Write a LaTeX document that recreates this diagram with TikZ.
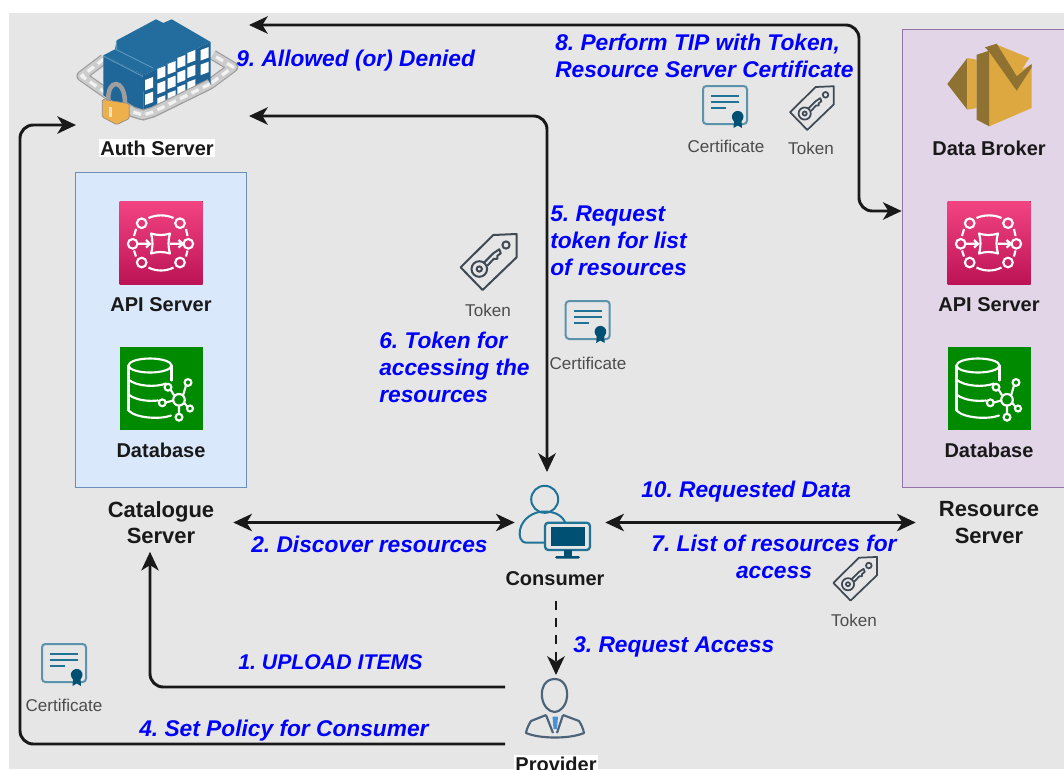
\documentclass[tikz,border=0pt]{standalone}
\usepackage{fontspec}
\setmainfont{Liberation Sans}
\usetikzlibrary{arrows.meta,calc}
\frenchspacing
\definecolor{bgc}{HTML}{E6E6E6}
\definecolor{certline}{HTML}{5B93AD}
\definecolor{tealdark}{HTML}{005073}
\definecolor{tealmid}{HTML}{1F7396}
\definecolor{tagc}{HTML}{3F4A55}
\definecolor{provc}{HTML}{4A6378}
\definecolor{brokerlight}{HTML}{DDA83F}
\definecolor{brokerdark}{HTML}{8F7232}
\definecolor{bldtop}{HTML}{226C9E}
\definecolor{bldleft}{HTML}{1F6699}
\definecolor{bldright}{HTML}{1D6293}
\definecolor{bldedge}{HTML}{5C95BC}
\tikzset{
  x=0.75pt,y=-0.75pt,
  conn/.style={draw=black!90,line width=2.2pt,rounded corners=10pt,-{Stealth[length=14pt,width=13pt,inset=4pt]}},
  connboth/.style={conn,{Stealth[length=14pt,width=13pt,inset=4pt]}-{Stealth[length=14pt,width=13pt,inset=4pt]}},
  blue label/.style={text=blue,font=\fontsize{17.05}{20}\selectfont\bfseries\itshape,align=left,inner sep=0pt},
  small blue/.style={text=blue,font=\fontsize{15.95}{20}\selectfont\bfseries\itshape,align=left,inner sep=0pt},
  bold label/.style={text=black!90,font=\fontsize{15}{18}\selectfont\bfseries,inner sep=0pt,align=center},
  big label/.style={text=black!90,font=\fontsize{16.5}{20}\selectfont\bfseries,inner sep=0pt,align=center},
  grey label/.style={text=black!70,font=\fontsize{12.8}{15}\selectfont,inner sep=0pt},
  anchorbox/.style={inner sep=0pt,draw=none},
  chainedge/.style={line width=8pt,draw=black!38,line join=round},
  chainbase/.style={line width=6.2pt,draw=black!20,line join=round},
  chainlink/.style={line width=2.4pt,draw=black!5,dash pattern=on 6pt off 3.5pt,line join=round},
  pics/certicon/.style={code={
    \draw[certline,line width=1.5pt,rounded corners=2.5pt] (-22,-19) rectangle (22,19);
    \draw[tealmid,line width=1.6pt] (-14,-9)--(14,-9) (-14,-3)--(14,-3) (-14,3.3)--(1,3.3);
    \fill[bgc] (12.7,11.7) circle [radius=8];
    \fill[tealdark] (9,14)--(8.5,23)--(12.7,20.5)--(17,23)--(16.5,14)--cycle;
    \fill[tealdark] (12.7,11.7) circle [radius=5.8];
  }},
  pics/tokenicon/.style={code={
    \draw[tagc,line width=#1,line join=round] (-27.7,5)--(5,-27.3)--(28.3,-28.3)--(28.3,-5)--(-5.7,27.7)--cycle;
    \draw[tagc,line width=#1] (17.7,-17.3) circle [radius=3.6];
    \draw[tagc,line width=#1] (-9,6.7) circle [radius=7.8];
    \draw[tagc,line width=#1] (-9,6.7) circle [radius=2.6];
    \draw[tagc,line width=#1,line join=round] (-4.5,0.5)--(5,-9)--(11,-13)--(12.5,-9)--(9,-6.5)--(9,-3.5)--(5.5,-3.5)--(-1,3.5);
  }},
  pics/apiicon/.style={code={
    \fill[top color={rgb,255:red,243;green,68;blue,130},bottom color={rgb,255:red,188;green,19;blue,86}] (-41.5,-41.5) rectangle (41.5,41.5);
    \begin{scope}[white,line width=1.6pt,fill=none]
      \foreach \p in {(-19.3,-19.3),(19,-19.3),(-28.3,1.3),(27.3,1.3),(-19.3,20),(19,20)}
        \draw \p circle [radius=4.8];
      \draw (-12.5,-24.5) .. controls (-5,-28) and (5,-28) .. (12.5,-24.5);
      \draw (-12.5,25) .. controls (-5,29) and (5,29) .. (12.5,25);
      \draw (-25,-13.5)--(-27,-6.5) (25,-13.5)--(26.5,-6.5) (-25,14)--(-27,8) (25,14)--(26.5,8);
      \draw[line join=round] (-10,-9) .. controls (-4,-7) and (3,-7) .. (9,-9) .. controls (7,-3) and (7,5) .. (9,11) .. controls (3,9) and (-4,9) .. (-10,11) .. controls (-8,5) and (-8,-3) .. (-10,-9) -- cycle;
      \draw (-23,1.3)--(-11,1.3) (-15,-2.5)--(-11,1.3)--(-15,5);
      \draw (9,1.3)--(22,1.3) (17.5,-2.5)--(22,1.3)--(17.5,5);
    \end{scope}
  }},
  pics/dbicon/.style={code={
    \fill[fill={rgb,255:red,0;green,138;blue,0}] (-41.5,-41.5) rectangle (41.5,41.5);
    \begin{scope}[white,line width=1.6pt,line cap=round]
      \draw (-11,-23) ellipse [x radius=21.5,y radius=7];
      \draw (-32.5,-23)--(-32.5,22);
      \draw (10.5,-23)--(10.5,-8);
      \draw (-32.5,-9) .. controls (-25,-2) and (-5,-1) .. (5,-5);
      \draw (-32.5,6) .. controls (-25,12) and (-12,13) .. (-3,12);
      \draw (-32.5,22) .. controls (-25,30) and (0,31) .. (10,27);
      \draw (18,11.3) circle [radius=5.8];
      \draw (27,-6) circle [radius=3.4];
      \draw (7,-1.3) circle [radius=3.4];
      \draw (1.3,14.3) circle [radius=3.4];
      \draw (29,20) circle [radius=3.0];
      \draw (18,28.7) circle [radius=3.4];
      \draw (22,7)--(25,-3) (13.5,7.5)--(9.5,1) (12.2,12)--(4.7,14) (23,14)--(26.5,18.5) (18,17)--(18,25.3);
    \end{scope}
  }},
  pics/brokericon/.style={code={
    \fill[brokerdark] (947.3,84)--(967.3,58)--(967.3,109.7)--cycle;
    \fill[brokerlight] (967.3,58)--(976.7,59.7)--(976.7,108)--(967.3,109.7)--cycle;
    \fill[brokerlight] (989.3,50)--(998.3,45.3)--(1029.3,58)--(1021.7,69.7)--(1031.7,64)--(1031.7,108)--(989.3,126.3)--cycle;
    \fill[brokerdark] (976.7,54.7)--(989.3,50.7)--(989.3,126.3)--(976.7,119.7)--cycle;
    \fill[brokerdark] (985,47.3)--(996.7,43.7)--(1016.7,76.3)--(1031.7,64)--(1031.7,67.3)--(1016.7,90.7)--(989.3,52)--cycle;
  }},
  pics/authicon/.style={code={
    \draw[chainedge] (104,59)--(81.7,76)--(133,112)--(143,115)--(153,112)--(210,84)--(233,67)--(213,55);
    \draw[chainbase] (104,59)--(81.7,76)--(133,112)--(143,115)--(153,112)--(210,84)--(233,67)--(213,55);
    \draw[chainlink] (104,59)--(81.7,76)--(133,112)--(143,115)--(153,112)--(210,84)--(233,67)--(213,55);
    \fill[bldtop] (116.7,40.3)--(156,19.3)--(163.3,23)--(171.7,19.3)--(210.7,42)--(144,75.3)--(103.3,55.3)--(115,49.3)--cycle;
    \fill[bldleft] (103.3,55.3)--(144,75.3)--(143.3,120.3)--(103.3,95.3)--cycle;
    \fill[bldright] (144,75.3)--(210.7,42)--(210.7,86)--(143.3,120.3)--cycle;
    \draw[bldedge,line width=0.7pt] (115,49)--(153,68) (104,56.5)--(143,76.5) (116.7,41)--(116.7,49);
    \foreach \wx/\wy/\wn in {145/80/2,157.3/69/3,167.7/64/3,177.3/58/3,187.3/53/3,200.7/50/2}
      \foreach \r in {1,...,\wn}
        \fill[white] ({\wx},{\wy+(\r-1)*14.6}) -- ++(8,-3) -- ++(0,10.5) -- ++(-8,3) -- cycle;
    \draw[chainedge] (210,84)--(153,112)--(143,115)--(133,112)--(123,106);
    \draw[chainbase] (210,84)--(153,112)--(143,115)--(133,112)--(123,106);
    \draw[chainlink] (210,84)--(153,112)--(143,115)--(133,112)--(123,106);
    \draw[line width=3.4pt,draw=black!38] (108.3,101) .. controls (107,78) and (125,78) .. (125,103);
    \fill[draw=black!45,fill={rgb,255:red,237;green,176;blue,74},rounded corners=1pt,line width=.5pt] (102.3,99.3)--(129.3,103.7)--(129.3,118.5)--(116.7,124.7)--(102.3,117)--cycle;
    \fill[white!75!orange] (109,107) rectangle (112.3,117);
  }},
  pics/consumericon/.style={code={
    \begin{scope}[tealmid,line width=1.5pt]
      \draw (544.7,499.3) circle [radius=13.5];
      \draw (545,542.7)--(527,542.7) .. controls (520,542.7) and (519,536) .. (520,530) .. controls (522,519) and (533,511.5) .. (544,511.5) .. controls (553,511.5) and (561,514) .. (565,522);
      \draw[rounded corners=2.5pt,line width=1.7pt] (545,522.7) rectangle (590,550);
      \fill[tealdark] (551,527.3) rectangle (585.3,546);
      \fill[tealdark] (563.5,550) rectangle (571.5,556);
      \fill[tealdark,rounded corners=1pt] (555,556) rectangle (580,558.5);
    \end{scope}
  }},
  pics/providericon/.style={code={
    \begin{scope}[draw=provc,line width=1.6pt,line join=round]
      \draw (554.7,679) .. controls (564,679) and (568,688) .. (567,697) .. controls (566,706) and (560,712) .. (554.7,712) .. controls (549,712) and (543,706) .. (542,697) .. controls (541,688) and (545,679) .. (554.7,679) -- cycle;
      \draw (546,715)--(531,721) .. controls (528,725) and (526,732) .. (526,733) .. controls (540,739) and (570,739) .. (584,733) .. controls (583,728) and (581,724) .. (579,721)--(563,715);
      \draw (546,715)--(553,733) (563,715)--(557,733);
      \fill[cyan!60!blue!75] (552.5,716.5)--(558,716.5)--(557,729)--(553.5,729)--cycle;
    \end{scope}
  }},
}
\begin{document}
\begin{tikzpicture}
\useasboundingbox (0,0) rectangle (1064,769);
\clip (0,0) rectangle (1064,769);
\fill[white] (0,0) rectangle (1064,769);
\fill[bgc] (9,13) rectangle (1070,769);

% containers
\node[anchorbox,draw={rgb,255:red,108;green,142;blue,191},fill={rgb,255:red,218;green,232;blue,252},line width=0.75pt,minimum width=128.25pt,minimum height=236.25pt] (catbox) at (160.5,329.5) {};
\node[anchorbox,draw={rgb,255:red,150;green,115;blue,166},fill={rgb,255:red,225;green,213;blue,231},line width=0.75pt,minimum width=140pt,minimum height=343.5pt] (resbox) at (995.5,258) {};

% icons
\pic at (0,0) {authicon};
\pic at (0,0) {brokericon};
\pic at (161,242.5) {apiicon};
\pic at (161,388.5) {dbicon};
\pic at (989,242.5) {apiicon};
\pic at (989,388.5) {dbicon};
\pic at (0,0) {consumericon};
\pic at (0,0) {providericon};
\pic at (725,105) {certicon};
\pic at (587.7,320) {certicon};
\pic at (64,663) {certicon};
\pic[scale=1] at (488.3,262.3) {tokenicon=1.5pt};
\pic[scale=0.78] at (811.7,108.3) {tokenicon=1.3pt};
\pic[scale=0.78] at (855,579) {tokenicon=1.3pt};

% labels
\node[bold label,fill=white,inner xsep=1pt,inner ysep=1pt] (auth) at (157,148) {Auth Server};
\node[bold label] (broker) at (989,148) {Data Broker};
\node[bold label] (api1) at (161,305) {API Server};
\node[bold label] (db1) at (161,450) {Database};
\node[bold label] (api2) at (989,305) {API Server};
\node[bold label] (db2) at (989,450) {Database};
\node[big label,minimum width=108pt,minimum height=43.5pt] (catalogue) at (161,522.5) {Catalogue\\Server};
\node[big label,minimum width=109.5pt,minimum height=40pt] (resource) at (989,522.5) {Resource\\Server};
\node[bold label,minimum width=67.5pt,minimum height=20pt] (consumer) at (560,522.5) {};
\node[bold label] (consumertext) at (555,579) {Consumer};
\node[bold label,fill=white,inner xsep=1pt,inner ysep=1pt] (provider) at (556,764) {Provider};
\node[grey label] (t1) at (488,310) {Token};
\node[grey label] (t2) at (811,148) {Token};
\node[grey label] (t3) at (854,620) {Token};
\node[grey label] (c1) at (726,146) {Certificate};
\node[grey label] (c2) at (588,363) {Certificate};
\node[grey label] (c3) at (64,705) {Certificate};

\node[blue label,anchor=west] (l9) at (236,61) {9. Allowed (or) Denied};
\node[blue label,anchor=north west] (l8) at (555,34) {8. Perform TIP with Token,\\Resource Server Certificate};
\node[blue label,anchor=north west] (l5) at (550,206) {5. Request\\token for list\\of resources};
\node[blue label,anchor=north west] (l6) at (379,332) {6. Token for\\accessing the\\resources};
\node[blue label,anchor=west] (l2) at (251,544) {2. Discover resources};
\node[blue label,anchor=west] (l10) at (641,492) {10. Requested Data};
\node[blue label,align=center,anchor=north] (l7) at (774,535) {7. List of resources for\\access};
\node[blue label,anchor=west] (l3) at (573,647) {3. Request Access};
\node[small blue,anchor=west] (l1) at (238,662) {1. UPLOAD ITEMS};
\node[blue label,anchor=west] (l4) at (139,731) {4. Set Policy for Consumer};

% connector ends
\coordinate (authtop) at (249,25);
\coordinate (authmid) at (249,116);
\coordinate (authin) at (76,125);
\coordinate (provout1) at (505,687);
\coordinate (provout2) at (505,744);
\coordinate (provtop) at (556,675);
\coordinate (constop) at (547,472);
\coordinate (consbottom) at (556,601);
\coordinate (corner8) at (859,25);
\coordinate (corner5) at (547,116);
\coordinate (resin) at (resbox.west |- 0,211);
\coordinate (catin) at ($(catalogue.south)+(-11,0)$);

% connectors
\draw[connboth] (authtop) -- (corner8) -- (corner8 |- resin) -- (resin);
\draw[connboth] (authmid) -- (corner5) -- (constop);
\draw[connboth] (catalogue.east) -- (consumer.west);
\draw[connboth] (consumer.east) -- (resource.west);
\draw[conn] (provout1) -| (catin);
\draw[conn] (provout2) -- (20,744) -- (20,125) -- (authin);
\draw[conn,dash pattern=on 6.4pt off 6.4pt] (consbottom) -- (provtop);
\end{tikzpicture}
\end{document}
